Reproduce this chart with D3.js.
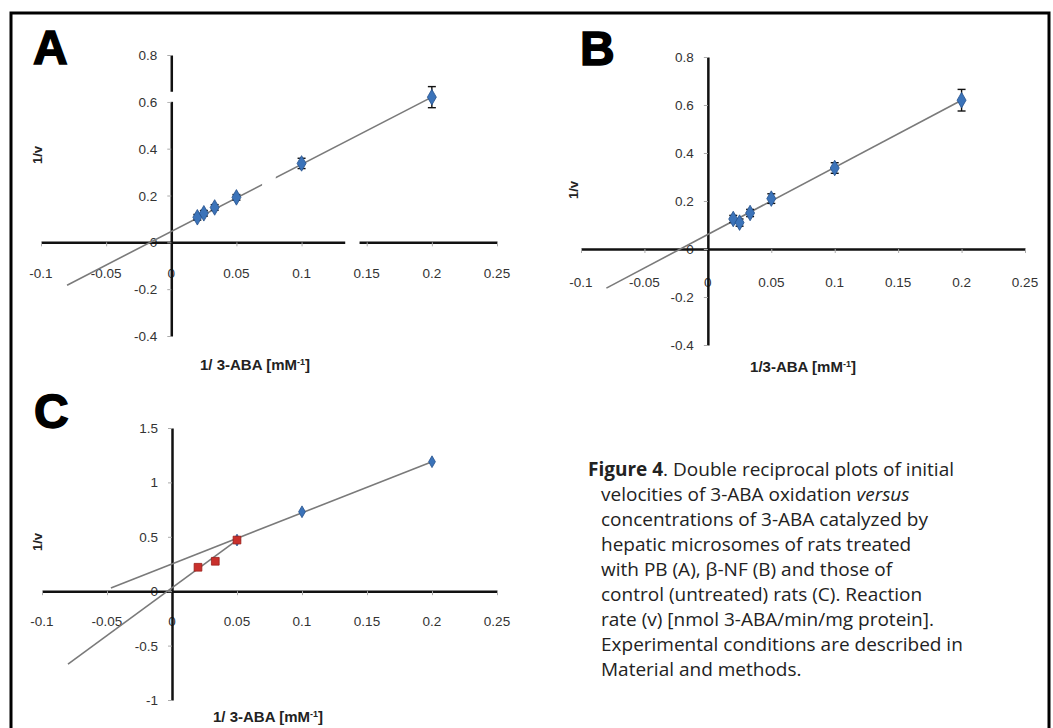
<!DOCTYPE html>
<html>
<head>
<meta charset="utf-8">
<script src="https://cdn.jsdelivr.net/npm/d3@7"></script>
<style>
  body { margin: 0; background: #fff; }
  svg { display: block; }
</style>
</head>
<body>
<div id="chart"></div>
<script>
// shared x values (1 / [3-ABA], mM^-1)
const xTicks = [-0.1, -0.05, 0, 0.05, 0.1, 0.15, 0.2, 0.25];
const yTicksAB = [-0.4, -0.2, 0, 0.2, 0.4, 0.6, 0.8];
const yTicksC = [-1, -0.5, 0, 0.5, 1, 1.5];

const abaInv = [0.02, 0.025, 0.0333, 0.05, 0.1, 0.2];

// panel A - PB
const rateInvA = [0.107, 0.124, 0.149, 0.192, 0.337, 0.62];
const errA = [0.012, 0.012, 0.012, 0.012, 0.022, 0.045];
const fitXA = [-0.08, 0.2];
const fitYA = [-0.183, 0.62];

// panel B - beta-NF
const rateInvB = [0.125, 0.11, 0.15, 0.21, 0.3375, 0.62];
const errB = [0.015, 0.015, 0.015, 0.02, 0.022, 0.045];
const fitXB = [-0.08, 0.2];
const fitYB = [-0.163, 0.62];

// panel C - control, two lines
const blueXC = [0.05, 0.1, 0.2];
const blueYC = [0.47, 0.73, 1.19];
const redXC = [0.02, 0.0333, 0.05];
const redYC = [0.22, 0.275, 0.47];
const fitXC1 = [-0.047, 0.2];
const fitYC1 = [0.03, 1.19];
const fitXC2 = [-0.08, 0.05];
const fitYC2 = [-0.67, 0.47];

const captionLines = [
  [["Figure 4", "bold"], [". Double reciprocal plots of initial", ""]],
  [["velocities of 3-ABA oxidation ", ""], ["versus", "italic"]],
  [["concentrations of 3-ABA catalyzed by", ""]],
  [["hepatic microsomes of rats treated", ""]],
  [["with PB (A), β-NF (B) and those of", ""]],
  [["control (untreated) rats (C). Reaction", ""]],
  [["rate (v) [nmol 3-ABA/min/mg protein].", ""]],
  [["Experimental conditions are described in", ""]],
  [["Material and methods.", ""]]
];

const w = 1053;
const h = 728;
const tickFont = "'Liberation Sans Narrow', 'Liberation Sans', sans-serif";

const svg = d3.select("#chart")
  .append("svg")
  .attr("width", w)
  .attr("height", h);

// outer frame
svg.append("path")
  .attr("d", "M11,740 V13 H1049 V740")
  .attr("fill", "none")
  .attr("stroke", "#000")
  .attr("stroke-width", 3);

const fmt = (d) => String(+d.toFixed(2));

function drawPanel(p) {
  const x = d3.scaleLinear().domain([-0.1, 0.25]).range(p.xr);
  const y = d3.scaleLinear().domain(p.yd).range(p.yr);
  const g = svg.append("g");

  // tick labels (drawn first so the axis lines sit on top)
  g.selectAll(".xlab")
    .data(xTicks)
    .enter()
    .append("text")
    .attr("x", (d) => x(d))
    .attr("y", y(0) + p.xlabOff)
    .attr("text-anchor", "middle")
    .attr("font-family", tickFont)
    .attr("font-size", 13.5)
    .attr("fill", "#333")
    .text(fmt);

  g.selectAll(".ylab")
    .data(p.yTicks)
    .enter()
    .append("text")
    .attr("x", x(0) - 14)
    .attr("y", (d) => y(d) + 5)
    .attr("text-anchor", "end")
    .attr("font-family", tickFont)
    .attr("font-size", 13.5)
    .attr("fill", "#333")
    .text(fmt);

  const xAxis = d3.axisBottom(x).tickValues(xTicks).tickSize(4).tickSizeOuter(0).tickFormat("");
  const yAxis = d3.axisLeft(y).tickValues(p.yTicks).tickSize(4).tickSizeOuter(0).tickFormat("");

  const gx = g.append("g").attr("transform", `translate(0,${y(0)})`).call(xAxis);
  const gy = g.append("g").attr("transform", `translate(${x(0)},0)`).call(yAxis);
  [gx, gy].forEach((a) => {
    a.select(".domain").attr("stroke", "#111").attr("stroke-width", 2.5);
    a.selectAll(".tick line").attr("stroke", "#aaa").attr("stroke-width", 1);
  });

  // fitted lines
  p.fits.forEach((f) => {
    g.append("path")
      .datum(d3.zip(f[0], f[1]))
      .attr("d", d3.line().x((d) => x(d[0])).y((d) => y(d[1])))
      .attr("fill", "none")
      .attr("stroke", "#7a7a7a")
      .attr("stroke-width", 1.6);
  });

  // small white breaks seen in the scanned figure
  (p.breaks || []).forEach((b) => {
    g.append("rect")
      .attr("x", x(b[0]))
      .attr("y", y(b[3]))
      .attr("width", x(b[1]) - x(b[0]))
      .attr("height", y(b[2]) - y(b[3]))
      .attr("fill", "#fff");
  });

  // error bars
  if (p.err) {
    const eb = g.selectAll(".eb")
      .data(d3.zip(p.px, p.py, p.err))
      .enter()
      .append("g")
      .attr("stroke", "#111")
      .attr("stroke-width", 1.4);
    eb.append("line")
      .attr("x1", (d) => x(d[0])).attr("x2", (d) => x(d[0]))
      .attr("y1", (d) => y(d[1] - d[2])).attr("y2", (d) => y(d[1] + d[2]));
    eb.append("line")
      .attr("x1", (d) => x(d[0]) - 4).attr("x2", (d) => x(d[0]) + 4)
      .attr("y1", (d) => y(d[1] + d[2])).attr("y2", (d) => y(d[1] + d[2]));
    eb.append("line")
      .attr("x1", (d) => x(d[0]) - 4).attr("x2", (d) => x(d[0]) + 4)
      .attr("y1", (d) => y(d[1] - d[2])).attr("y2", (d) => y(d[1] - d[2]));
  }

  // markers
  p.series.forEach((s) => {
    g.selectAll(null)
      .data(d3.zip(s.x, s.y))
      .enter()
      .append("path")
      .attr("transform", (d) => `translate(${x(d[0])},${y(d[1])})`)
      .attr("d", d3.symbol().type(s.type).size(s.size))
      .attr("fill", s.color)
      .attr("stroke", s.stroke)
      .attr("stroke-width", 0.8);
  });

  // panel letter
  g.append("text")
    .attr("x", p.letterX)
    .attr("y", p.letterY)
    .attr("font-family", "'Liberation Sans', Arial, sans-serif")
    .attr("font-weight", "bold")
    .attr("font-size", 48)
    .attr("fill", "#000")
    .attr("stroke", "#000")
    .attr("stroke-width", 1.5)
    .text(p.letter);

  // y title
  g.append("text")
    .attr("transform", `translate(${p.ytX},${p.ytY}) rotate(-90)`)
    .attr("text-anchor", "middle")
    .attr("font-family", tickFont)
    .attr("font-weight", "bold")
    .attr("font-size", 13)
    .attr("fill", "#222")
    .text("1/v");

  // x title
  const xt = g.append("text")
    .attr("x", p.xtX)
    .attr("y", p.xtY)
    .attr("text-anchor", "middle")
    .attr("font-family", tickFont)
    .attr("font-weight", "bold")
    .attr("font-size", 15)
    .attr("fill", "#222");
  xt.append("tspan").text(p.xtitle);
  xt.append("tspan").attr("dy", -5).attr("font-size", 9).text("-1");
  xt.append("tspan").attr("dy", 5).text("]");
}

const blueDiamond = { type: d3.symbolDiamond, size: 70, color: "#3b73b9", stroke: "#24518c" };

drawPanel({
  letter: "A", letterX: 33, letterY: 64,
  xr: [41, 497], yd: [-0.4, 0.8], yr: [336, 55], yTicks: yTicksAB, xlabOff: 36,
  px: abaInv, py: rateInvA, err: errA,
  fits: [[fitXA, fitYA]],
  // [x0, x1, y0, y1] in data units
  breaks: [[-0.004, 0.004, 0.6, 0.643], [0.1335, 0.1445, -0.01, 0.01], [0.0697, 0.0802, 0.2, 0.3]],
  series: [Object.assign({ x: abaInv, y: rateInvA }, blueDiamond)],
  ytX: 42, ytY: 155, xtX: 255, xtY: 370, xtitle: "1/ 3-ABA [mM"
});

drawPanel({
  letter: "B", letterX: 580, letterY: 65,
  xr: [581, 1025], yd: [-0.4, 0.8], yr: [345, 57], yTicks: yTicksAB, xlabOff: 38,
  px: abaInv, py: rateInvB, err: errB,
  fits: [[fitXB, fitYB]],
  series: [Object.assign({ x: abaInv, y: rateInvB }, blueDiamond)],
  ytX: 578, ytY: 190, xtX: 803, xtY: 372, xtitle: "1/3-ABA [mM"
});

drawPanel({
  letter: "C", letterX: 34, letterY: 428,
  xr: [42, 497], yd: [-1, 1.5], yr: [700, 428], yTicks: yTicksC, xlabOff: 35,
  fits: [[fitXC1, fitYC1], [fitXC2, fitYC2]],
  series: [
    { x: blueXC, y: blueYC, type: d3.symbolDiamond, size: 40, color: "#3b73b9", stroke: "#24518c" },
    { x: redXC, y: redYC, type: d3.symbolSquare, size: 60, color: "#c9302c", stroke: "#9a1f1b" }
  ],
  ytX: 42, ytY: 542, xtX: 268, xtY: 722, xtitle: "1/ 3-ABA [mM"
});

// caption
const cap = svg.append("text")
  .attr("font-family", "'Open Sans', 'Noto Sans', sans-serif")
  .attr("font-size", 19)
  .attr("fill", "#222");

captionLines.forEach((line, i) => {
  line.forEach((part, j) => {
    const t = cap.append("tspan").text(part[0]);
    if (j === 0) t.attr("x", i === 0 ? 588 : 601).attr("y", 476 + i * 25);
    if (part[1] === "bold") t.attr("font-weight", "bold");
    if (part[1] === "italic") t.attr("font-style", "italic");
  });
});
</script>
</body>
</html>
